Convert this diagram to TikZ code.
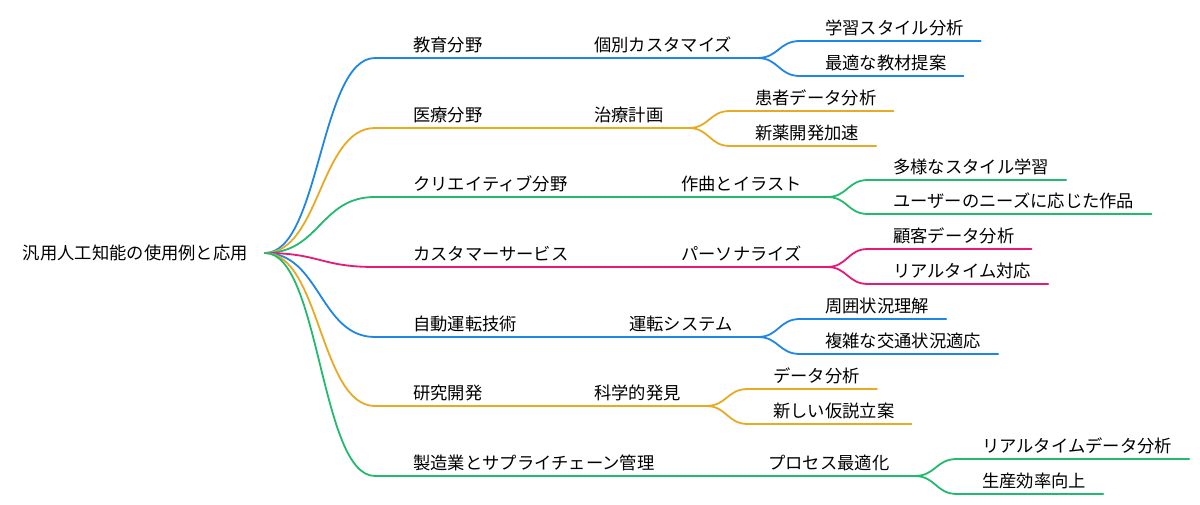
\documentclass[tikz,border=0pt]{standalone}
\usepackage{fontspec}
\newfontfamily\jp{Noto Sans CJK JP}
\usetikzlibrary{calc}

\definecolor{mmblue}{RGB}{31,134,230}
\definecolor{mmorange}{RGB}{232,170,34}
\definecolor{mmgreen}{RGB}{33,186,110}
\definecolor{mmpink}{RGB}{230,24,120}

\tikzset{
  mmfont/.style={font=\jp\fontsize{17.3pt}{20pt}\selectfont, text=black},
  rootnode/.style={mmfont, anchor=east, inner xsep=17pt, inner ysep=0pt,
    text height=13.2pt, text depth=0pt},
  topic/.style={mmfont, anchor=south west, inner xsep=17pt, inner ysep=0pt,
    text height=13pt, text depth=6.5pt, execute at begin node={\hspace*{21pt}}},
  subtopic/.style={mmfont, anchor=south west, inner xsep=25pt, inner ysep=0pt,
    text height=13pt, text depth=6.5pt},
  leaf/.style={mmfont, anchor=south west, inner xsep=17pt, inner ysep=0pt,
    text height=13pt, text depth=6.5pt, execute at begin node={\hspace*{8pt}}},
  branch/.style={line width=1.8pt, line cap=round, line join=round},
  link/.style={to path={let \p1=(\tikztostart), \p2=(\tikztotarget) in
    .. controls ({(\x1+\x2)/2},\y1) and ({(\x1+\x2)/2},\y2) .. (\tikztotarget)}},
}

\begin{document}
\begin{tikzpicture}[x=1pt,y=-1pt]
\useasboundingbox (0,0) rectangle (1200,505);

% The root
\node[rootnode] (root) at (265,253) {汎用人工知能の使用例と応用};

% The topics
\node[topic] (edu) at (375,58) {教育分野};
\node[topic] (med) at (375,128) {医療分野};
\node[topic] (cre) at (375,197) {クリエイティブ分野};
\node[topic] (cs) at (375,267) {カスタマーサービス};
\node[topic] (auto) at (375,337) {自動運転技術};
\node[topic] (rnd) at (375,406) {研究開発};
\node[topic] (mfg) at (375,476) {製造業とサプライチェーン管理};

% The subtopics
\node[subtopic] (edu-c) at (569,58) {個別カスタマイズ};
\node[subtopic] (med-c) at (569,128) {治療計画};
\node[subtopic] (cre-c) at (656,197) {作曲とイラスト};
\node[subtopic] (cs-c) at (656,267) {パーソナライズ};
\node[subtopic] (auto-c) at (604,337) {運転システム};
\node[subtopic] (rnd-c) at (569,406) {科学的発見};
\node[subtopic] (mfg-c) at (743,476) {プロセス最適化};

% The leaves
\node[leaf] (edu-c-1) at (800,41) {学習スタイル分析};
\node[leaf] (edu-c-2) at (800,76) {最適な教材提案};
\node[leaf] (med-c-1) at (730,111) {患者データ分析};
\node[leaf] (med-c-2) at (730,146) {新薬開発加速};
\node[leaf] (cre-c-1) at (868,180) {多様なスタイル学習};
\node[leaf] (cre-c-2) at (868,214) {ユーザーのニーズに応じた作品};
\node[leaf] (cs-c-1) at (868,249) {顧客データ分析};
\node[leaf] (cs-c-2) at (868,284) {リアルタイム対応};
\node[leaf] (auto-c-1) at (800,319) {周囲状況理解};
\node[leaf] (auto-c-2) at (800,354) {複雑な交通状況適応};
\node[leaf] (rnd-c-1) at (748,389) {データ分析};
\node[leaf] (rnd-c-2) at (748,424) {新しい仮説立案};
\node[leaf] (mfg-c-1) at (957,459) {リアルタイムデータ分析};
\node[leaf] (mfg-c-2) at (957,494) {生産効率向上};

% The branches
\foreach \t/\c in {edu/mmblue, med/mmorange, cre/mmgreen, cs/mmpink,
                   auto/mmblue, rnd/mmorange, mfg/mmgreen} {
  \draw[branch, \c] (root.east) to[link] (\t.south west) -- (\t.south east)
    -- (\t-c.south west) -- (\t-c.south east);
  \draw[branch, \c] (\t-c.south east) to[link] (\t-c-1.south west)
    -- (\t-c-1.south east);
  \draw[branch, \c] (\t-c.south east) to[link] (\t-c-2.south west)
    -- (\t-c-2.south east);
}

\end{tikzpicture}
\end{document}
